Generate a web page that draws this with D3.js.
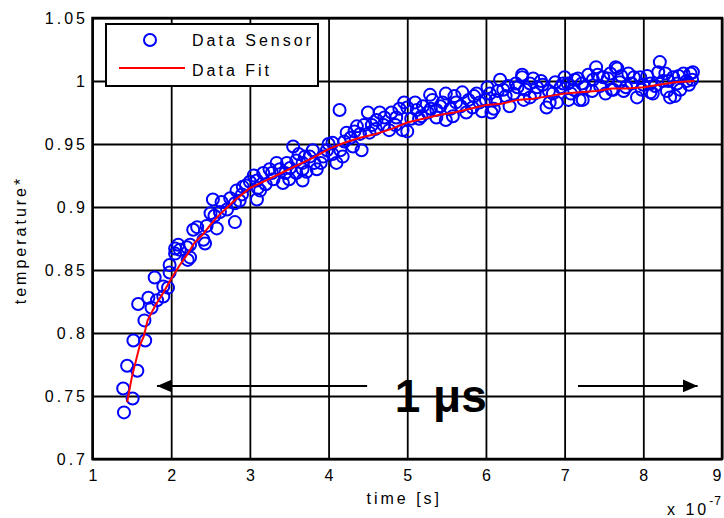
<!DOCTYPE html>
<html>
<head>
<meta charset="utf-8">
<script src="https://cdn.jsdelivr.net/npm/d3@7"></script>
<style>
body { margin: 0; background: #fff; }
text { font-family: "Liberation Sans", Arial, sans-serif; font-size: 16px; letter-spacing: 3px; fill: #000; }
</style>
</head>
<body>
<script>
// sensor samples (time in units of 1e-7 s, normalised temperature)
var sensorTime = [
    1.40, 1.39, 1.51, 1.44, 1.57, 1.52, 1.67, 1.66, 1.58, 1.75, 1.71, 1.82, 1.90, 1.79, 1.96, 1.90,
    1.98, 1.98, 2.05, 2.11, 2.20, 2.24, 2.09, 2.21, 2.43, 2.05, 2.24, 2.28, 2.41, 2.33, 2.50, 2.53,
    2.58, 2.64, 2.71, 2.81, 2.81, 2.83, 2.91, 3.00, 2.90, 3.09, 3.13, 3.09, 3.17, 3.28, 3.34, 3.42,
    3.45, 3.51, 3.59, 3.67, 3.55, 3.67, 3.72, 4.14, 3.59, 3.76, 3.67, 3.85, 3.93, 4.05, 4.10, 4.18,
    4.23, 4.36, 4.31, 4.42, 4.52, 4.50, 4.61, 4.71, 4.77, 4.86, 4.96, 4.94, 5.00, 5.00, 5.12, 5.29,
    5.26, 5.37, 5.37, 5.32, 5.49, 5.49, 5.62, 5.70, 5.75, 5.83, 5.92, 6.07, 6.05, 6.18, 6.22, 6.35,
    6.46, 6.56, 6.65, 6.56, 6.77, 6.90, 6.88, 7.04, 7.12, 7.17, 6.46, 6.81, 7.40, 7.65, 7.23, 7.60,
    8.21, 7.92, 7.19, 7.13, 7.36, 7.49, 7.62, 7.67, 7.81, 7.96, 8.09, 8.09, 8.19, 8.28, 8.30, 8.34,
    8.43, 8.51, 8.60, 8.63, 8.47, 7.26,
    3.05, 3.20, 3.30, 3.38, 3.50, 3.62, 3.80, 3.90, 3.98, 4.05, 4.20, 4.28, 4.40, 4.45, 4.60, 4.65,
    4.80, 4.90, 5.05, 5.10, 5.20, 5.18, 5.42, 5.55, 5.60, 5.78, 5.88, 5.95, 6.00, 6.12, 6.28, 6.30,
    6.40, 6.50, 6.60, 6.72, 6.80, 6.95, 7.00, 7.08, 7.30, 7.45, 7.55, 7.70, 7.75, 7.85, 8.00, 8.15,
    8.25, 8.38, 8.55, 8.62, 8.40, 2.45, 2.55, 2.62, 2.75, 2.87, 2.95,
    5.45, 5.58, 5.68, 5.85, 6.02, 6.10, 6.15, 6.25, 6.38, 6.48, 6.62, 6.70, 6.85, 6.98, 7.05, 7.22,
    7.35, 7.42, 7.52, 7.58, 7.72, 7.78, 7.88, 7.98, 8.05, 8.12, 8.32, 8.45, 8.58, 3.10, 3.25, 3.47,
    3.70, 3.82, 4.00, 4.15, 4.33, 4.55, 4.70, 4.85, 5.15, 5.30
];
var sensorTemp = [
    0.737, 0.756, 0.748, 0.774, 0.770, 0.794, 0.794, 0.810, 0.823, 0.820, 0.828, 0.826, 0.829, 0.844, 0.836, 0.837,
    0.854, 0.848, 0.863, 0.866, 0.868, 0.860, 0.870, 0.858, 0.871, 0.867, 0.870, 0.882, 0.874, 0.884, 0.895, 0.906,
    0.883, 0.904, 0.898, 0.888, 0.903, 0.913, 0.916, 0.920, 0.910, 0.906, 0.913, 0.921, 0.927, 0.927, 0.935, 0.919,
    0.927, 0.931, 0.927, 0.921, 0.948, 0.935, 0.928, 0.977, 0.937, 0.940, 0.930, 0.930, 0.940, 0.951, 0.935, 0.940,
    0.959, 0.964, 0.948, 0.945, 0.959, 0.975, 0.969, 0.971, 0.961, 0.971, 0.983, 0.961, 0.960, 0.979, 0.977, 0.989,
    0.975, 0.971, 0.977, 0.985, 0.969, 0.990, 0.983, 0.991, 0.975, 0.979, 0.983, 0.975, 0.990, 1.001, 0.993, 0.990,
    1.003, 0.998, 0.995, 0.987, 0.979, 0.983, 0.999, 0.998, 0.993, 1.002, 1.005, 0.983, 1.011, 1.011, 0.985, 0.993,
    1.015, 0.987, 0.985, 1.001, 1.001, 1.003, 0.993, 1.010, 1.006, 1.003, 0.998, 0.991, 1.007, 1.006, 0.992, 0.987,
    0.998, 1.006, 1.006, 1.007, 0.993, 0.995,
    0.925, 0.918, 0.922, 0.930, 0.922, 0.942, 0.945, 0.935, 0.945, 0.942, 0.952, 0.955, 0.958, 0.965, 0.962, 0.975,
    0.975, 0.978, 0.970, 0.983, 0.980, 0.972, 0.980, 0.978, 0.988, 0.985, 0.990, 0.976, 0.985, 0.985, 0.996, 0.980,
    0.995, 0.993, 1.002, 0.997, 0.992, 0.995, 1.003, 0.990, 1.005, 0.996, 1.002, 0.999, 0.992, 0.998, 0.997, 0.996,
    1.000, 1.003, 1.000, 1.001, 0.988, 0.885, 0.893, 0.896, 0.907, 0.905, 0.917,
    0.983, 0.972, 0.980, 0.988, 0.995, 0.978, 0.992, 0.988, 0.998, 0.985, 0.990, 1.000, 0.990, 0.998, 0.985, 0.998,
    0.992, 1.005, 0.990, 1.006, 1.004, 0.995, 1.003, 0.993, 1.004, 0.990, 1.000, 1.004, 0.997, 0.915, 0.930, 0.935,
    0.940, 0.935, 0.950, 0.945, 0.960, 0.965, 0.965, 0.965, 0.970, 0.978
];

// fitted curve
var fitTime = [1.44, 1.50, 1.60, 1.65, 1.70, 1.80, 1.90, 2.00, 2.10, 2.20, 2.30, 2.40, 2.50, 2.60, 2.70, 2.80,
    3.00, 3.20, 3.40, 3.60, 3.80, 4.00, 4.20, 4.40, 4.60, 4.80, 5.00, 5.20, 5.40, 5.60, 5.80, 6.00,
    6.20, 6.40, 6.60, 6.80, 7.00, 7.20, 7.40, 7.60, 7.80, 8.00, 8.20, 8.40, 8.65];
var fitTemp = [0.745, 0.765, 0.790, 0.797, 0.810, 0.822, 0.832, 0.843, 0.853, 0.862, 0.872, 0.878, 0.886, 0.893, 0.899, 0.905,
    0.915, 0.921, 0.927, 0.933, 0.939, 0.946, 0.951, 0.955, 0.958, 0.962, 0.967, 0.970, 0.973, 0.975, 0.978, 0.981,
    0.982, 0.985, 0.986, 0.988, 0.990, 0.991, 0.992, 0.994, 0.994, 0.995, 0.997, 0.999, 1.000];

var xTicks = [1, 2, 3, 4, 5, 6, 7, 8, 9];
var yTicks = [0.7, 0.75, 0.8, 0.85, 0.9, 0.95, 1, 1.05];
var yTickLabels = ["0.7", "0.75", "0.8", "0.85", "0.9", "0.95", "1", "1.05"];

var margin = {top: 18, right: 2, bottom: 59, left: 92.5},
    width = 724 - margin.left - margin.right,
    height = 518 - margin.top - margin.bottom;

var x = d3.scaleLinear().domain([1, 9]).range([0, width]);
var y = d3.scaleLinear().domain([0.7, 1.05]).range([height, 0]);

var svg = d3.select("body").append("svg")
    .attr("width", 724)
    .attr("height", 518)
    .append("g")
    .attr("transform", "translate(" + margin.left + "," + margin.top + ")");

// grid + tick labels
var xAxis = svg.append("g")
    .attr("transform", "translate(0," + height + ")")
    .call(d3.axisBottom(x).tickValues(xTicks).tickSize(-height).tickPadding(11).tickFormat(d3.format("d")));
// last label sits right at the edge of the window, nudge it in
xAxis.selectAll("text").attr("dx", function(d) { return d === 9 ? "-4px" : "1.5px"; });

var yAxis = svg.append("g")
    .call(d3.axisLeft(y).tickValues(yTicks).tickSize(-width).tickPadding(4.5)
        .tickFormat(function(d, i) { return yTickLabels[i]; }));

svg.selectAll(".domain").remove();
svg.selectAll(".tick line").attr("stroke", "#000").attr("stroke-width", 1.8);
svg.selectAll(".tick text").style("font-size", "16px").attr("fill", "#000");

// box
svg.append("rect")
    .attr("width", width)
    .attr("height", height)
    .attr("fill", "none")
    .attr("stroke", "#000")
    .attr("stroke-width", 2.5);

// annotation arrows
svg.append("defs").append("marker")
    .attr("id", "head")
    .attr("viewBox", "0 0 15 13")
    .attr("refX", 15).attr("refY", 6.5)
    .attr("markerWidth", 15).attr("markerHeight", 13)
    .attr("markerUnits", "userSpaceOnUse")
    .attr("orient", "auto")
    .append("path").attr("d", "M0,0L15,6.5L0,13Z").attr("fill", "#000");

svg.append("line")
    .attr("x1", x(4.49)).attr("x2", x(1.82))
    .attr("y1", y(0.758)).attr("y2", y(0.758))
    .attr("stroke", "#000").attr("stroke-width", 2)
    .attr("marker-end", "url(#head)");
svg.append("line")
    .attr("x1", x(7.17)).attr("x2", x(8.69))
    .attr("y1", y(0.758)).attr("y2", y(0.758))
    .attr("stroke", "#000").attr("stroke-width", 2)
    .attr("marker-end", "url(#head)");

svg.append("text")
    .attr("x", x(4.84))
    .attr("y", y(0.7375))
    .style("font-size", "46px")
    .style("font-weight", "bold")
    .style("letter-spacing", "0px")
    .text("1 μs");

// sensor points
var pts = sensorTime.map(function(t, i) { return {t: t, v: sensorTemp[i]}; });
svg.selectAll(".point")
    .data(pts)
    .enter().append("circle")
    .attr("class", "point")
    .attr("cx", function(d) { return x(d.t); })
    .attr("cy", function(d) { return y(d.v); })
    .attr("r", 6)
    .attr("fill", "none")
    .attr("stroke", "#0000ff")
    .attr("stroke-width", 2);

// fit line
var fit = fitTime.map(function(t, i) { return [t, fitTemp[i]]; });
svg.append("path")
    .datum(fit)
    .attr("fill", "none")
    .attr("stroke", "#ff0000")
    .attr("stroke-width", 2)
    .attr("d", d3.line().x(function(d) { return x(d[0]); }).y(function(d) { return y(d[1]); }));

// legend
var legend = svg.append("g").attr("transform", "translate(" + (106 - margin.left) + "," + (24 - margin.top) + ")");
legend.append("rect")
    .attr("width", 212)
    .attr("height", 62)
    .attr("fill", "#fff")
    .attr("stroke", "#000")
    .attr("stroke-width", 2);
legend.append("circle")
    .attr("cx", 44).attr("cy", 16).attr("r", 6)
    .attr("fill", "none").attr("stroke", "#0000ff").attr("stroke-width", 2);
legend.append("line")
    .attr("x1", 13).attr("x2", 79).attr("y1", 44).attr("y2", 44)
    .attr("stroke", "#ff0000").attr("stroke-width", 2);
legend.append("text").attr("x", 86).attr("y", 22).text("Data Sensor");
legend.append("text").attr("x", 86).attr("y", 52).text("Data Fit");

// axis labels
svg.append("text")
    .attr("x", x(5) - 3)
    .attr("y", 486)
    .style("text-anchor", "middle")
    .text("time [s]");

svg.append("text")
    .attr("transform", "rotate(-90)")
    .attr("x", -(240 - margin.top))
    .attr("y", 26 - margin.left)
    .style("text-anchor", "middle")
    .style("font-size", "16px")
    .style("letter-spacing", "3px")
    .text("temperature*");

var expo = svg.append("text")
    .attr("x", 667 - margin.left)
    .attr("y", 515 - margin.top);
expo.append("tspan").text("x 10");
expo.append("tspan").attr("dy", -10).style("font-size", "12px").style("letter-spacing", "1px").text("-7");
</script>
</body>
</html>
